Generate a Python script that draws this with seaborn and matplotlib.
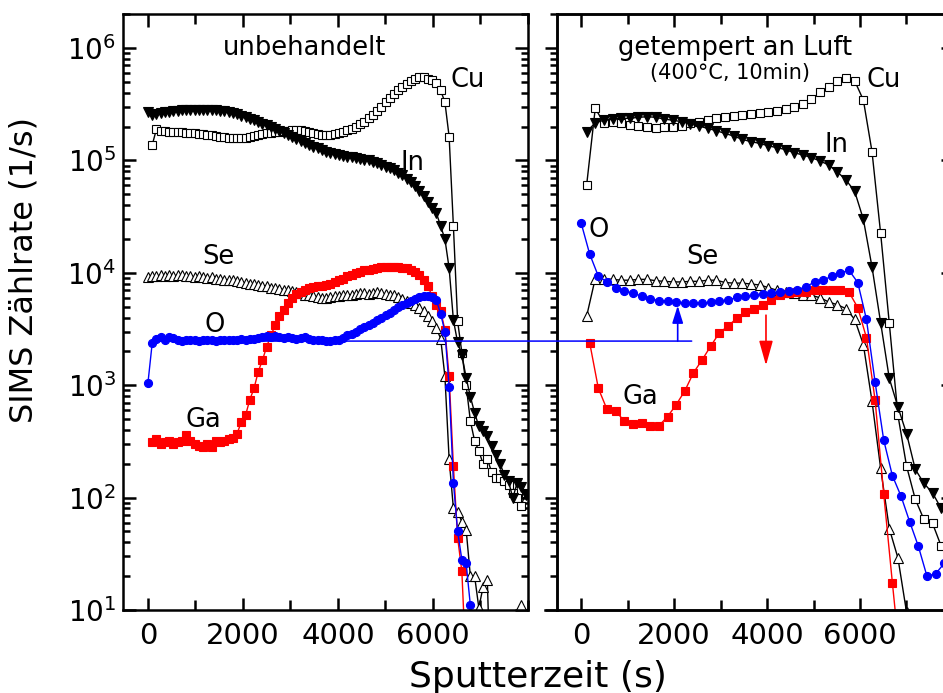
import numpy as np
import pandas as pd
import matplotlib
matplotlib.use("Agg")
import matplotlib.pyplot as plt
import seaborn as sns
from matplotlib.ticker import FixedLocator, LogLocator, NullFormatter
from matplotlib.patches import ConnectionPatch

nan = np.nan

# ---------------- left panel: "unbehandelt" ----------------
t_left = [0, 89, 179, 268, 357, 447, 536, 625, 714, 804, 893, 982, 1072, 1161, 1250,
          1340, 1429, 1518, 1607, 1697, 1786, 1875, 1965, 2054, 2143, 2233, 2322, 2411,
          2500, 2590, 2679, 2768, 2858, 2947, 3036, 3126, 3215, 3304, 3393, 3483, 3572,
          3661, 3751, 3840, 3929, 4019, 4108, 4197, 4286, 4376, 4465, 4554, 4644, 4733,
          4822, 4912, 5001, 5090, 5179, 5269, 5358, 5447, 5537, 5626, 5715, 5805, 5894,
          5983, 6072, 6162, 6251, 6340, 6430, 6519, 6608, 6698, 6787, 6876, 6965, 7055,
          7144, 7233, 7323, 7412, 7501, 7591, 7680, 7769, 7858, 7948]

cu_left = [nan, 1.37e5, 1.9e5, 1.83e5, 1.81e5, 1.8e5, 1.8e5, 1.79e5, 1.78e5, 1.77e5,
           1.76e5, 1.75e5, 1.73e5, 1.71e5, 1.69e5, 1.67e5, 1.65e5, 1.63e5, 1.61e5, 1.59e5,
           1.58e5, 1.57e5, 1.58e5, 1.6e5, 1.62e5, 1.65e5, 1.68e5, 1.71e5, 1.74e5, 1.77e5,
           1.79e5, 1.8e5, 1.82e5, 1.84e5, 1.85e5, 1.86e5, 1.85e5, 1.83e5, 1.8e5, 1.76e5,
           1.72e5, 1.69e5, 1.68e5, 1.69e5, 1.72e5, 1.75e5, 1.8e5, 1.86e5, 1.91e5, 2.0e5,
           2.1e5, 2.22e5, 2.37e5, 2.55e5, 2.75e5, 3.0e5, 3.3e5, 3.6e5, 3.9e5, 4.2e5,
           4.5e5, 4.8e5, 5.05e5, 5.3e5, 5.5e5, 5.5e5, 5.35e5, 5.15e5, 4.85e5, 4.2e5,
           3.3e5, 1.63e5, 2.6e4, 3.7e3, 1.95e3, 1.0e3, 4.8e2, 3.2e2, 2.6e2, 2.0e2,
           2.2e2, 1.7e2, 1.5e2, 1.5e2, 1.4e2, 1.3e2, 1.1e2, 1.0e2, 85, 1.1e2]

in_left = [2.7e5, 2.55e5, 2.6e5, 2.65e5, 2.7e5, 2.72e5, 2.75e5, 2.77e5, 2.8e5, 2.82e5,
           2.83e5, 2.84e5, 2.84e5, 2.84e5, 2.83e5, 2.82e5, 2.8e5, 2.77e5, 2.73e5, 2.68e5,
           2.63e5, 2.57e5, 2.5e5, 2.42e5, 2.35e5, 2.27e5, 2.2e5, 2.13e5, 2.06e5, 1.98e5,
           1.9e5, 1.83e5, 1.76e5, 1.69e5, 1.62e5, 1.56e5, 1.5e5, 1.44e5, 1.38e5, 1.33e5,
           1.28e5, 1.24e5, 1.2e5, 1.16e5, 1.13e5, 1.11e5, 1.09e5, 1.08e5, 1.07e5, 1.05e5,
           1.03e5, 1.01e5, 1.0e5, 9.7e4, 9.4e4, 9.1e4, 8.8e4, 8.5e4, 8.2e4, 7.8e4,
           7.4e4, 6.9e4, 6.4e4, 5.9e4, 5.4e4, 4.8e4, 4.3e4, 3.8e4, 3.4e4, 2.6e4,
           2.0e4, 1.1e4, 3.8e3, 2.4e3, 1.86e3, 1.17e3, 7.9e2, 5.7e2, 4.3e2, 3.9e2,
           3.5e2, 2.9e2, 2.4e2, 2.0e2, 1.6e2, 1.4e2, 99, 1.34e2, 1.25e2, 1.05e2]

se_left = [9.2e3, 9.4e3, 9.3e3, 9.5e3, 9.4e3, 9.6e3, 9.4e3, 9.5e3, 9.6e3, 9.4e3,
           9.3e3, 9.2e3, 9.3e3, 9.1e3, 9.0e3, 9.1e3, 8.9e3, 8.8e3, 8.7e3, 8.6e3,
           8.6e3, 8.4e3, 8.3e3, 8.1e3, 8.0e3, 7.9e3, 7.8e3, 7.7e3, 7.6e3, 7.4e3,
           7.3e3, 7.2e3, 7.1e3, 7.0e3, 6.9e3, 6.8e3, 6.6e3, 6.4e3, 6.3e3, 6.2e3,
           6.1e3, 6.0e3, 6.0e3, 6.1e3, 6.2e3, 6.2e3, 6.3e3, 6.4e3, 6.4e3, 6.5e3,
           6.6e3, 6.6e3, 6.5e3, 6.6e3, 6.7e3, 6.6e3, 6.5e3, 6.4e3, 6.3e3, 6.1e3,
           5.9e3, 5.6e3, 5.4e3, 5.2e3, 4.9e3, 4.6e3, 4.1e3, 3.7e3, 3.2e3, 2.6e3,
           1.2e3, 2.2e2, 80, 75, 61, 52, 20, 20, 10.5, 16,
           18.5, 1, 1, 1, 1, 1, 1, 1, 11, nan]

o_left = [1.05e3, 2.36e3, 2.6e3, 2.7e3, 2.55e3, 2.7e3, 2.65e3, 2.5e3, 2.45e3, 2.55e3,
          2.5e3, 2.5e3, 2.45e3, 2.5e3, 2.55e3, 2.5e3, 2.45e3, 2.5e3, 2.5e3, 2.55e3,
          2.5e3, 2.55e3, 2.6e3, 2.55e3, 2.6e3, 2.6e3, 2.65e3, 2.7e3, 2.75e3, 2.7e3,
          2.75e3, 2.7e3, 2.65e3, 2.7e3, 2.65e3, 2.6e3, 2.65e3, 2.7e3, 2.6e3, 2.55e3,
          2.5e3, 2.55e3, 2.45e3, 2.45e3, 2.5e3, 2.55e3, 2.65e3, 2.8e3, 2.85e3, 3.0e3,
          3.15e3, 3.3e3, 3.45e3, 3.6e3, 3.8e3, 4.0e3, 4.25e3, 4.4e3, 4.7e3, 5.0e3,
          5.2e3, 5.4e3, 5.6e3, 5.9e3, 6.1e3, 6.2e3, 6.2e3, 6.1e3, 5.7e3, 4.3e3,
          3.0e3, 9.7e2, 1.36e2, 50, 28, 26, 11] + [nan] * 13

ga_left = [nan, 3.1e2, 3.3e2, 3.0e2, 3.1e2, 3.2e2, 3.0e2, 3.1e2, 3.2e2, 3.6e2,
           3.2e2, 3.0e2, 2.9e2, 2.8e2, 3.0e2, 2.8e2, 3.2e2, 3.1e2, 3.2e2, 3.3e2,
           3.4e2, 3.7e2, 4.7e2, 5.4e2, 7.4e2, 9.4e2, 1.32e3, 1.68e3, 2.2e3, 2.8e3,
           3.4e3, 4.1e3, 4.7e3, 5.4e3, 6.0e3, 6.5e3, 6.8e3, 7.1e3, 7.3e3, 7.5e3,
           7.6e3, 7.7e3, 7.8e3, 8.0e3, 8.3e3, 8.6e3, 8.9e3, 9.3e3, 9.6e3, 9.9e3,
           1.02e4, 1.05e4, 1.07e4, 1.09e4, 1.1e4, 1.12e4, 1.13e4, 1.13e4, 1.13e4, 1.12e4,
           1.11e4, 1.1e4, 1.07e4, 1.02e4, 9.6e3, 8.7e3, 7.6e3, 6.2e3, 5.2e3, 4.6e3,
           3.1e3, 1.2e3, 1.9e2, 44, 22, 3] + [nan] * 14

# ---------------- right panel: "getempert an Luft" ----------------
t_right = [0, 186, 372, 558, 744, 930, 1116, 1302, 1488, 1674, 1860, 2046, 2232, 2418,
           2604, 2790, 2976, 3162, 3348, 3534, 3720, 3906, 4092, 4278, 4464, 4650, 4836,
           5022, 5208, 5394, 5580, 5766, 5952, 6138, 6324, 6510, 6696, 6882, 7068, 7254,
           7440, 7626, 7812]
t_right2 = [120, 306, 492, 678, 864, 1050, 1236, 1422, 1608, 1794, 1980, 2166, 2352,
            2538, 2724, 2910, 3096, 3282, 3468, 3654, 3840, 4026, 4212, 4398, 4584, 4770,
            4956, 5142, 5328, 5514, 5700, 5886, 6072, 6258, 6444, 6630, 6816, 7002, 7188,
            7374, 7560, 7746, 7932]

cu_right = [6.0e4, 2.9e5, 2.16e5, 2.2e5, 2.14e5, 2.07e5, 2.02e5, 1.97e5, 1.95e5, 2.0e5,
            2.0e5, 2.02e5, 2.14e5, 2.2e5, 2.29e5, 2.37e5, 2.42e5, 2.48e5, 2.53e5, 2.57e5,
            2.62e5, 2.68e5, 2.77e5, 2.85e5, 3.0e5, 3.2e5, 3.5e5, 4.04e5, 4.53e5, 5.1e5,
            5.45e5, 5.1e5, 3.45e5, 1.2e5, 2.24e4, 3.56e3, 5.4e2, 1.9e2, 97, 64,
            59, 37, 28]

in_right = [1.8e5, 2.16e5, 2.28e5, 2.32e5, 2.37e5, 2.37e5, 2.42e5, 2.45e5, 2.42e5, 2.33e5,
            2.28e5, 2.21e5, 2.11e5, 2.02e5, 1.93e5, 1.84e5, 1.74e5, 1.65e5, 1.54e5, 1.47e5,
            1.42e5, 1.35e5, 1.3e5, 1.25e5, 1.17e5, 1.12e5, 1.06e5, 9.9e4, 9.1e4, 7.9e4,
            6.7e4, 5.3e4, 3.0e4, 1.13e4, 3.6e3, 1.15e3, 6.4e2, 3.7e2, 1.79e2, 1.34e2,
            1.1e2, 80, 60]

se_right = [4.1e3, 8.9e3, 8.9e3, 8.75e3, 8.6e3, 8.6e3, 8.75e3, 8.75e3, 8.5e3, 8.4e3,
            8.3e3, 8.3e3, 8.4e3, 8.4e3, 8.6e3, 8.6e3, 8.2e3, 8.1e3, 8.1e3, 7.95e3,
            7.8e3, 7.4e3, 7.0e3, 6.8e3, 6.6e3, 6.3e3, 6.3e3, 6.0e3, 5.5e3, 5.2e3,
            4.8e3, 3.85e3, 2.3e3, 7.2e2, 1.82e2, 53, 29, 9.5] + [nan] * 5

o_right = [2.8e4, 1.47e4, 9.35e3, 8.3e3, 7.4e3, 6.9e3, 6.6e3, 6.2e3, 5.9e3, 5.65e3,
           5.65e3, 5.5e3, 5.4e3, 5.4e3, 5.4e3, 5.45e3, 5.65e3, 5.7e3, 6.05e3, 6.2e3,
           6.3e3, 6.5e3, 6.6e3, 6.8e3, 6.9e3, 7.1e3, 7.5e3, 8.3e3, 8.6e3, 9.35e3,
           1.0e4, 1.05e4, 8.2e3, 3.86e3, 1.07e3, 3.25e2, 1.57e2, 1.03e2, 61, 37,
           20, 21, 26]

ga_right = [nan, 2.39e3, 9.4e2, 6.1e2, 5.9e2, 4.8e2, 4.5e2, 4.6e2, 4.3e2, 4.35e2,
            5.25e2, 6.7e2, 8.9e2, 1.29e3, 1.68e3, 2.23e3, 2.93e3, 3.36e3, 3.94e3, 4.5e3,
            4.8e3, 5.2e3, 5.7e3, 6.3e3, 6.6e3, 6.7e3, 6.8e3, 7.0e3, 7.1e3, 7.1e3,
            7.0e3, 6.7e3, 4.9e3, 2.65e3, 7.4e2, 1.08e2, 17.5, 3] + [nan] * 5

# tick values
x_ticks = [0, 2000, 4000, 6000]
x_minor = [1000, 3000, 5000, 7000, 8000]

# reference level and arrows (data coords)
o_ref_level = 2470
blue_arrow = (2079, 2470, 5.1e3)
red_arrow = (3978, 4.2e3, 1.5e3)

# ---------------- styling ----------------
sns.set_style("ticks")
plt.rcParams["font.family"] = ["DejaVu Sans"]
plt.rcParams["mathtext.fontset"] = "dejavusans"
for key in ["text.color", "axes.labelcolor", "xtick.color", "ytick.color",
            "axes.edgecolor", "xtick.labelcolor", "ytick.labelcolor"]:
    plt.rcParams[key] = "black"

BLUE = "#0000FF"
RED = "#FF0000"
BLACK = "#000000"

fig = plt.figure(figsize=(9.43, 6.93), dpi=100)
ax1 = fig.add_axes([0.1304, 0.1198, 0.4295, 0.8600])
ax2 = fig.add_axes([0.5907, 0.1198, 0.4199, 0.8600])

YMIN, YMAX = 10, 2.01e6


def draw(ax, t, v, marker, face, color, ms):
    df = pd.DataFrame({"t": t, "v": v}).dropna()
    sns.lineplot(data=df, x="t", y="v", ax=ax, estimator=None, sort=False,
                 color=color, linewidth=1.0, marker=marker, markersize=ms,
                 markerfacecolor=face, markeredgecolor=color,
                 markeredgewidth=0.8, legend=False)


for ax, t1, t2, cu, inn, se, o, ga in [
    (ax1, t_left, t_left, cu_left, in_left, se_left, o_left, ga_left),
    (ax2, t_right, t_right2, cu_right, in_right, se_right, o_right, ga_right),
]:
    draw(ax, t2, cu, "s", "white", BLACK, 5.2)
    draw(ax, t2, inn, "v", BLACK, BLACK, 6.5)
    draw(ax, t2, se, "^", "white", BLACK, 6.5)
    draw(ax, t1, ga, "s", RED, RED, 5.2)
    draw(ax, t1, o, "o", BLUE, BLUE, 5.8)

ax1.set_xlim(-526, 8000)
ax2.set_xlim(-516, 8000)
for ax in (ax1, ax2):
    ax.set_yscale("log")
    ax.set_ylim(YMIN, YMAX)
    ax.set_xlabel("")
    ax.set_ylabel("")
    ax.xaxis.set_major_locator(FixedLocator(x_ticks))
    ax.xaxis.set_minor_locator(FixedLocator(x_minor))
    ax.yaxis.set_major_locator(LogLocator(base=10, numticks=12))
    ax.yaxis.set_minor_locator(LogLocator(base=10, subs=np.arange(2, 10), numticks=40))
    ax.yaxis.set_minor_formatter(NullFormatter())
    for s in ax.spines.values():
        s.set_linewidth(1.8)
        s.set_visible(True)
        s.set_color(BLACK)
    ax.tick_params(axis="x", which="both", direction="in", top=True, bottom=True,
                   width=1.8, labelsize=21, pad=9, colors=BLACK)
    ax.tick_params(axis="x", which="major", length=9)
    ax.tick_params(axis="x", which="minor", length=7)

ax1.tick_params(axis="y", which="both", direction="in", left=True, right=True,
                width=1.8, labelsize=20, pad=5, colors=BLACK)
ax1.tick_params(axis="y", which="major", length=9.5)
ax1.tick_params(axis="y", which="minor", length=5)

ax2.tick_params(axis="y", which="both", direction="out", left=True, right=False,
                labelleft=False, width=1.8, colors=BLACK)
ax2.tick_params(axis="y", which="major", length=9)
ax2.tick_params(axis="y", which="minor", length=5)
ax2.spines["bottom"].set_bounds(-770, 8000)

ax2r = ax2.twinx()
ax2r.set_yscale("log")
ax2r.set_ylim(YMIN, YMAX)
ax2r.yaxis.set_major_locator(LogLocator(base=10, numticks=12))
ax2r.yaxis.set_minor_locator(LogLocator(base=10, subs=np.arange(2, 10), numticks=40))
ax2r.tick_params(axis="y", which="both", direction="in", right=True, labelright=False,
                 width=1.8, colors=BLACK)
ax2r.tick_params(axis="y", which="major", length=9)
ax2r.tick_params(axis="y", which="minor", length=5)
for s in ax2r.spines.values():
    s.set_linewidth(1.8)

# text labels
fs = 18.5
ax1.text(3305, 1.0e6, "unbehandelt", fontsize=fs, ha="center", va="center")
ax1.text(6737, 5.2e5, "Cu", fontsize=fs, ha="center", va="center")
ax1.text(5579, 9.5e4, "In", fontsize=fs, ha="center", va="center")
ax1.text(1474, 1.38e4, "Se", fontsize=fs, ha="center", va="center")
ax1.text(1411, 3.4e3, "O", fontsize=fs, ha="center", va="center")
ax1.text(1158, 4.9e2, "Ga", fontsize=fs, ha="center", va="center")

ax2.text(3312, 1.0e6, "getempert an Luft", fontsize=fs, ha="center", va="center")
ax2.text(3204, 6.0e5, "(400°C, 10min)", fontsize=15, ha="center", va="center")
ax2.text(6516, 5.2e5, "Cu", fontsize=fs, ha="center", va="center")
ax2.text(5505, 1.37e5, "In", fontsize=fs, ha="center", va="center")
ax2.text(387, 2.4e4, "O", fontsize=fs, ha="center", va="center")
ax2.text(2602, 1.38e4, "Se", fontsize=fs, ha="center", va="center")
ax2.text(1269, 7.9e2, "Ga", fontsize=fs, ha="center", va="center")

# reference line for O level across both panels
con = ConnectionPatch(xyA=(90, o_ref_level), coordsA=ax1.transData,
                      xyB=(2380, o_ref_level), coordsB=ax2.transData,
                      color=BLUE, lw=1.1)
fig.add_artist(con)

bx, by0, by1 = blue_arrow
ax2.annotate("", xy=(bx, by1), xytext=(bx, by0),
             arrowprops=dict(arrowstyle="-|>,head_length=0.7,head_width=0.22",
                             color=BLUE, lw=1.2, shrinkA=0, shrinkB=0,
                             mutation_scale=15))
rx, ry0, ry1 = red_arrow
ax2.annotate("", xy=(rx, ry1), xytext=(rx, ry0),
             arrowprops=dict(arrowstyle="-|>,head_length=1.0,head_width=0.28",
                             color=RED, lw=1.2, shrinkA=0, shrinkB=0,
                             mutation_scale=15))

fig.text(24 / 943, 1 - 270 / 693, "SIMS Zählrate (1/s)", fontsize=23,
         rotation=90, ha="center", va="center")
fig.text(538 / 943, 1 - 677 / 693, "Sputterzeit (s)", fontsize=26,
         ha="center", va="center")

fig.savefig("out.png", dpi=100)
